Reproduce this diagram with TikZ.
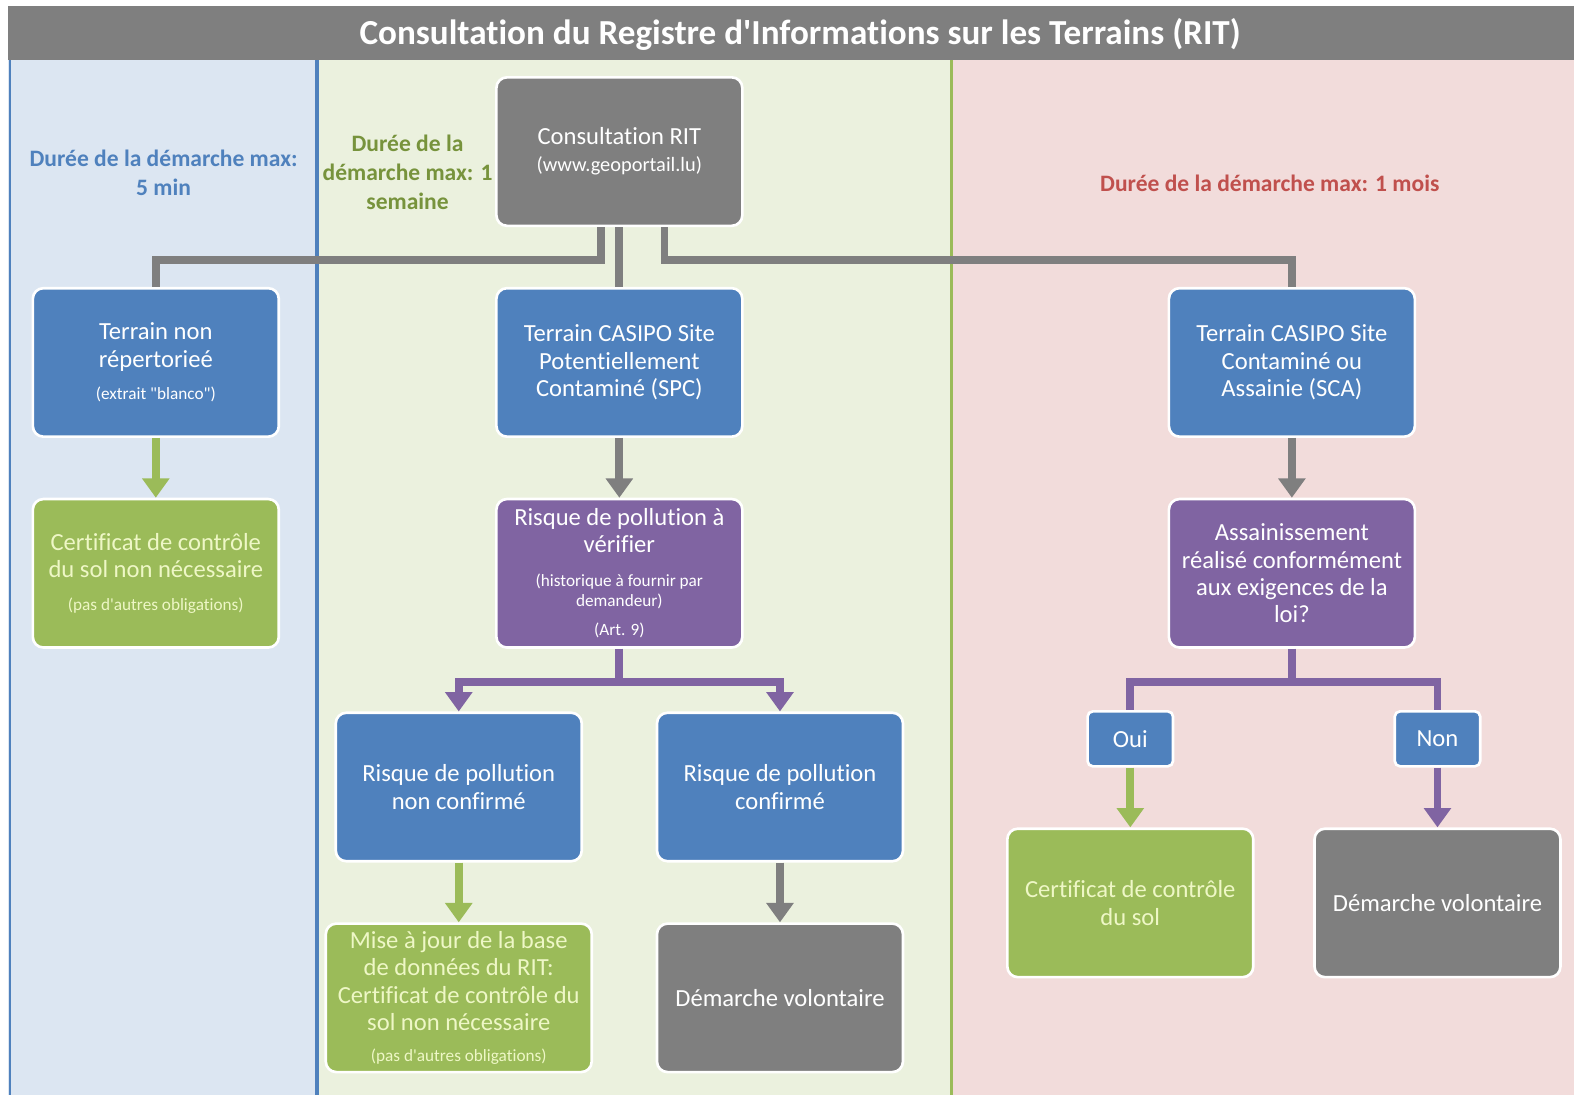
\documentclass[tikz,border=0pt]{standalone}
\usepackage{fontspec}
\setmainfont{Carlito}[Ligatures=NoCommon]
\usetikzlibrary{arrows.meta,calc,positioning}

\definecolor{bargrey}{HTML}{7F7F7F}
\definecolor{boxblue}{HTML}{4F81BD}
\definecolor{boxgreen}{HTML}{9BBB59}
\definecolor{boxpurple}{HTML}{8064A2}
\definecolor{paleblue}{HTML}{DCE6F2}
\definecolor{palegreen}{HTML}{EBF1DE}
\definecolor{palered}{HTML}{F2DCDB}
\definecolor{lighttext}{HTML}{EEF7C6}
\definecolor{durblue}{HTML}{4F81BD}
\definecolor{durgreen}{HTML}{77933C}
\definecolor{durred}{HTML}{C0504D}

\newcommand\smallnote{\fontsize{9.8}{11}\selectfont}
\newcommand\webnote{\fontsize{11.6}{13}\selectfont}

\begin{document}
\begin{tikzpicture}[
  x = 0.020077cm, y = -0.020073cm,
  node distance = 1.195cm,
  consult/.style   = {rectangle, rounded corners=6pt, draw=white, line width=1.5pt, fill=bargrey  , text=white    , minimum width=4.92cm, minimum height=2.97cm, align=center, inner sep=0pt, font=\fontsize{14}{15.5}\selectfont},
  terrain/.style   = {rectangle, rounded corners=6pt, draw=white, line width=1.5pt, fill=boxblue  , text=white    , minimum width=4.92cm, minimum height=2.97cm, align=center, inner sep=0pt, font=\fontsize{14}{15.5}\selectfont},
  question/.style  = {rectangle, rounded corners=6pt, draw=white, line width=1.5pt, fill=boxpurple, text=white    , minimum width=4.92cm, minimum height=2.97cm, align=center, inner sep=0pt, font=\fontsize{14}{15.5}\selectfont},
  result/.style    = {rectangle, rounded corners=6pt, draw=white, line width=1.5pt, fill=boxgreen , text=lighttext, minimum width=4.92cm, minimum height=2.97cm, align=center, inner sep=0pt, font=\fontsize{14}{15.5}\selectfont},
  voluntary/.style = {rectangle, rounded corners=6pt, draw=white, line width=1.5pt, fill=bargrey  , text=white    , minimum width=4.92cm, minimum height=2.97cm, align=center, inner sep=0pt, font=\fontsize{14}{15.5}\selectfont},
  answer/.style    = {rectangle, rounded corners=3pt, draw=white, line width=1.5pt, fill=boxblue  , text=white    , minimum width=1.71cm, minimum height=1.1cm , align=center, inner sep=0pt, font=\fontsize{14}{15.5}\selectfont},
  link/.style      = {line width=4.5pt},
  arrow/.style     = {line width=4.5pt, -{Triangle[length=11pt, width=15pt]}},
  duration/.style  = {align=center, font=\bfseries\fontsize{13.4}{16.5}\selectfont},
  ]
  \useasboundingbox (0,0) rectangle (1568,1091);
  % panels
  \fill[paleblue]  (8,60) rectangle (317,1091);
  \fill[palegreen] (317,60) rectangle (949,1091);
  \fill[palered]   (949,60) rectangle (1568,1091);
  \draw[boxblue, line width=1pt]    (10,60) -- (10,1091);
  \draw[boxblue, line width=2pt]    (316,60) -- (316,1091);
  \draw[boxgreen, line width=1.5pt] (948,60) -- (948,1091);
  \fill[bargrey] (8,6) rectangle (1568,60);
  \node[text=white, font=\bfseries\fontsize{20}{24}\selectfont] (title) at (797,34) {Consultation du Registre d\textquotesingle Informations sur les Terrains (RIT)};
  % durations
  \node[duration, text=durblue]  (dur1) at (163,172)  {Durée de la démarche max:\\5 min};
  \node[duration, text=durgreen] (dur2) at (406,172)  {Durée de la\\démarche max: 1\\semaine};
  \node[duration, text=durred]   (dur3) at (1265,183) {Durée de la démarche max: 1 mois};
  % consultation and first level
  \node[consult] (rit) at (617,151) {Consultation RIT\\{\webnote (www.geoportail.lu)}};
  \node[terrain, below=of rit] (spc) {Terrain CASIPO Site\\Potentiellement\\Contaminé (SPC)};
  \node[terrain, left=4.3cm of spc] (tnr) {Terrain non\\répertorieé\\[3pt]{\smallnote (extrait \textquotedbl blanco\textquotedbl)}};
  \node[terrain, right=8.48cm of spc] (sca) {Terrain CASIPO Site\\Contaminé ou\\Assainie (SCA)};
  \node[result, below=of tnr] (cert1) {Certificat de contrôle\\du sol non nécessaire\\[3pt]{\smallnote (pas d\textquotesingle autres obligations)}};
  \node[question, below=of spc] (rpv) {Risque de pollution à\\vérifier\\[4pt]{\smallnote (historique à fournir par}\\[-4pt]{\smallnote demandeur)}\\[1pt]{\smallnote (Art. 9)}};
  \node[question, below=of sca] (ass) {Assainissement\\réalisé conformément\\aux exigences de la\\loi?};
  % second level
  \node[terrain] (rnc) at (457,784) {Risque de pollution\\non confirmé};
  \node[terrain] (rc)  at (777,784) {Risque de pollution\\confirmé};
  \node[result, minimum width=5.32cm, below=of rnc] (maj) {Mise à jour de la base\\de données du RIT:\\Certificat de contrôle du\\sol non nécessaire\\[2pt]{\smallnote (pas d\textquotesingle autres obligations)}};
  \node[voluntary, below=of rc] (dv1) {Démarche volontaire};
  \node[answer] (oui) at (1126,736) {Oui};
  \node[answer] (non) at (1432,736) {Non};
  \node[result, below=of oui] (cert2) {Certificat de contrôle\\du sol};
  \node[voluntary, below=of non] (dv2) {Démarche volontaire};
  % connectors
  \draw[link, bargrey] ($(rit.south)+(-18,0)$) -- ++(0,33) -| (tnr.north);
  \draw[link, bargrey] (rit) -- (spc);
  \draw[link, bargrey] ($(rit.south)+(45,0)$) -- ++(0,33) -| (sca.north);
  \draw[arrow, boxgreen] (tnr) -- (cert1);
  \draw[arrow, bargrey]  (spc) -- (rpv);
  \draw[arrow, bargrey]  (sca) -- (ass);
  \draw[arrow, boxpurple] (rpv.south) -- ++(0,33) -| (rnc.north);
  \draw[arrow, boxpurple] (rpv.south) -- ++(0,33) -| (rc.north);
  \draw[arrow, boxgreen] (rnc) -- (maj);
  \draw[arrow, bargrey]  (rc) -- (dv1);
  \draw[link, boxpurple] (ass.south) -- ++(0,33) -| (oui.north);
  \draw[link, boxpurple] (ass.south) -- ++(0,33) -| (non.north);
  \draw[arrow, boxgreen]  (oui) -- (cert2);
  \draw[arrow, boxpurple] (non) -- (dv2);
\end{tikzpicture}
\end{document}
